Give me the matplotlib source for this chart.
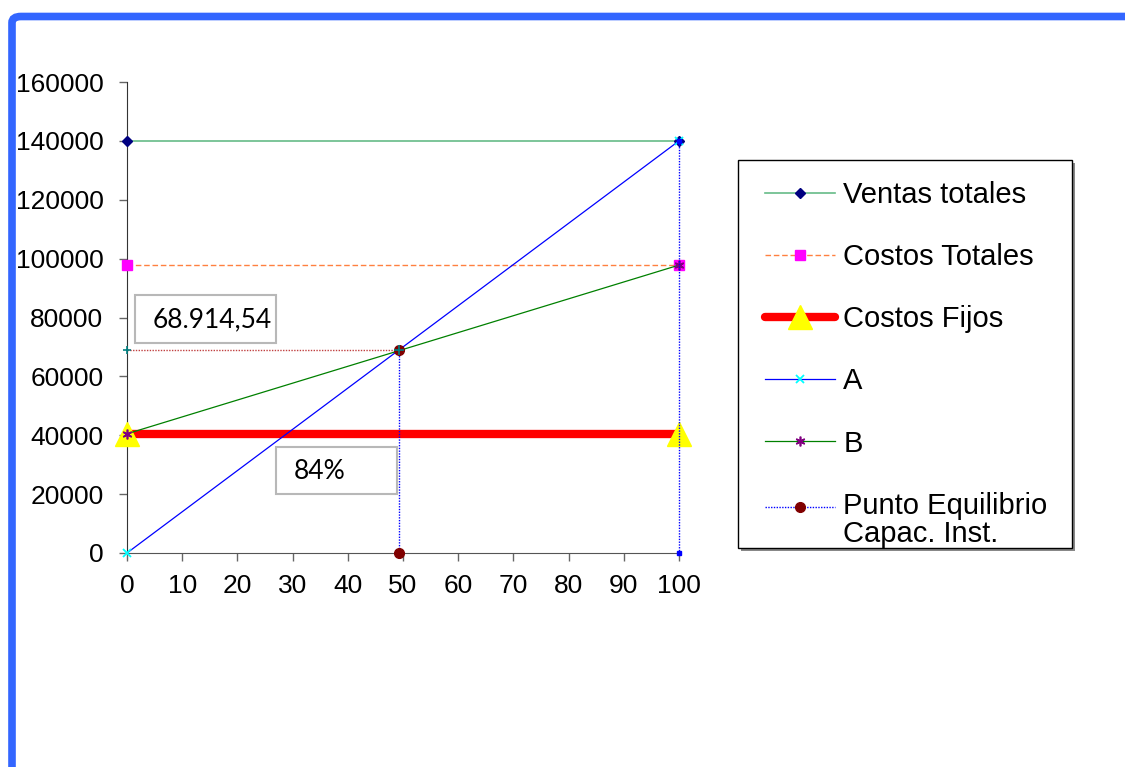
import matplotlib.pyplot as plt
from matplotlib.patches import Rectangle, FancyBboxPatch
from matplotlib.legend_handler import HandlerLine2D
import numpy as np

# Datos del punto de equilibrio
x_cap = [0, 100]                       # % de capacidad instalada
ventas_totales = [140000, 140000]
costos_totales = [97800, 97800]
costos_fijos = [40500, 40500]
recta_a = [0, 140000]                  # ingresos
recta_b = [40500, 97800]               # costos fijos + variables
pe_x = 49.2
pe_y = 68914.54
pe_label = "68.914,54"
pct_label = "84%"

plt.rcParams['font.family'] = ['Liberation Sans', 'DejaVu Sans']


class HandlerArriba(HandlerLine2D):
    """Dibuja la muestra de la leyenda alineada con la primera linea del rotulo."""

    def __init__(self, dy, **kw):
        super().__init__(**kw)
        self.dy = dy

    def create_artists(self, legend, orig_handle, xdescent, ydescent,
                       width, height, fontsize, trans):
        arts = super().create_artists(legend, orig_handle, xdescent, ydescent,
                                      width, height, fontsize, trans)
        for a in arts:
            a.set_ydata(np.asarray(a.get_ydata(), dtype=float) + self.dy)
        return arts


fig = plt.figure(figsize=(11.25, 7.67), dpi=100)
fig.patch.set_facecolor('white')
W, H = 1125, 767

def fx(px):
    return px / W

def fy(py):
    return 1 - py / H

# marco azul (arriba e izquierda)
frame = FancyBboxPatch((fx(12), fy(900)), fx(1300), fy(16.5) - fy(900),
                       boxstyle="round,pad=0,rounding_size=0.008",
                       transform=fig.transFigure, facecolor='none',
                       edgecolor='#3366ff', linewidth=5.5, clip_on=False)
fig.patches.append(frame)

ax = fig.add_axes([fx(127), fy(553), fx(679) - fx(127), fy(82) - fy(553)])
ax.set_xlim(0, 100)
ax.set_ylim(0, 160000)
ax.set_xticks(np.arange(0, 101, 10))
ax.set_yticks(np.arange(0, 160001, 20000))
for s in ['top', 'right']:
    ax.spines[s].set_visible(False)
ax.spines['left'].set_color('#333333')
ax.spines['bottom'].set_color('#555555')
ax.tick_params(axis='both', labelsize=19, length=6, width=1, color='#666666')
ax.tick_params(axis='y', pad=11)
ax.tick_params(axis='x', pad=9)

l_ventas, = ax.plot(x_cap, ventas_totales, color='#66bb88', lw=1.2,
                    marker='D', ms=5, mfc='#000080', mec='#000080',
                    label='Ventas totales', clip_on=False, zorder=3)
l_costos, = ax.plot(x_cap, costos_totales, color='#ff8040', lw=1.0, ls=(0, (4, 2)),
                    marker='s', ms=7, mfc='#ff00ff', mec='#ff00ff',
                    label='Costos Totales', clip_on=False, zorder=3)
l_fijos, = ax.plot(x_cap, costos_fijos, color='#ff0000', lw=6, solid_capstyle='round',
                   marker='^', ms=17, mfc='#ffff00', mec='#ffff00',
                   label='Costos Fijos', clip_on=False, zorder=3)
l_a, = ax.plot(x_cap, recta_a, color='#0000ff', lw=0.9,
               marker='x', ms=6, mew=1.3, mfc='#00ffff', mec='#00ffff',
               label='A', clip_on=False, zorder=4)
l_b, = ax.plot(x_cap, recta_b, color='#008000', lw=0.9,
               marker=(6, 2, 0), ms=7, mew=1.2, mec='#800080',
               label='B', clip_on=False, zorder=4)

# linea horizontal al valor del punto de equilibrio
ax.plot([0, pe_x], [pe_y, pe_y], color='#c04040', lw=1.0, ls=(0, (1, 1)),
        marker='+', ms=6, mew=1.2, mec='#008080', clip_on=False, zorder=3)
# vertical del punto de equilibrio
l_pe, = ax.plot([pe_x, pe_x], [pe_y, 0], color='#0000ff', lw=1.0, ls=(0, (1, 1)),
                marker='o', ms=7, mfc='#800000', mec='#800000',
                label='Punto Equilibrio\nCapac. Inst.', clip_on=False, zorder=5)
ax.plot([pe_x], [pe_y], ls='none', marker='+', ms=7, mew=1.2, mec='#008080', zorder=6)
# vertical de la capacidad instalada
ax.plot([x_cap[1], x_cap[1]], [ventas_totales[1], 0], color='#0000ff', lw=1.0,
        ls=(0, (1, 1)), marker='s', ms=3, mfc='#0000ff', mec='#0000ff',
        clip_on=False, zorder=5)

# cuadros de texto
for (x0, y0, x1, y1), txt, tx in [((135, 295, 276, 343), pe_label, 153),
                                   ((276, 447, 397, 494), pct_label, 294)]:
    fig.patches.append(Rectangle((fx(x0), fy(y1)), fx(x1 - x0), fy(y0) - fy(y1),
                                 transform=fig.transFigure, facecolor='white',
                                 edgecolor='#b8b8b8', lw=1.5, zorder=10))
    fig.text(fx(tx), fy((y0 + y1) / 2 + 1), txt, fontsize=19, family='Lato',
             ha='left', va='center', zorder=11)

# caja de la leyenda con sombra
fig.patches.append(Rectangle((fx(741), fy(551)), fx(334), fy(163) - fy(551),
                             transform=fig.transFigure, facecolor='#888888',
                             edgecolor='none', zorder=1))
fig.patches.append(Rectangle((fx(738), fy(548)), fx(334), fy(160) - fy(548),
                             transform=fig.transFigure, facecolor='white',
                             edgecolor='black', lw=1.0, zorder=2))
leg = fig.legend(handles=[l_ventas, l_costos, l_fijos, l_a, l_b, l_pe],
                 loc='upper left', bbox_to_anchor=(fx(765), fy(181)),
                 frameon=False, fontsize=21, numpoints=1, handlelength=2.4,
                 handletextpad=0.28, labelspacing=1.17, borderpad=0,
                 borderaxespad=0, handler_map={l_pe: HandlerArriba(dy=9.7)})
leg.set_zorder(12)
leg.get_texts()[-1].set_linespacing(1.02)

fig.savefig('out.png', dpi=100)
